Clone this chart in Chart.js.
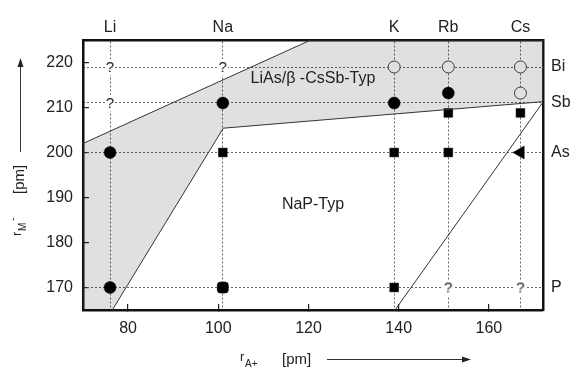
<!DOCTYPE html>
<html>
<head>
<meta charset="utf-8">
<script src="https://cdn.jsdelivr.net/npm/chart.js@4.4.1/dist/chart.umd.min.js"></script>
<style>
  html, body { margin: 0; padding: 0; background: #fff; }
</style>
</head>
<body>
<canvas id="chart" width="573" height="370"></canvas>
<script>
/**
 * Data
 */
const cations = ['Li', 'Na', 'K', 'Rb', 'Cs'];
const cationRadii = [76, 101, 139, 151, 167];
const anions = ['P', 'As', 'Sb', 'Bi'];
const anionRadii = [170, 200, 211, 219];
const xTicks = [80, 100, 120, 140, 160];
const yTicks = [170, 180, 190, 200, 210, 220];

// Beobachtete Strukturen je Verbindung
const filledCircles = [[76, 170], [76, 200], [101, 211], [139, 211], [151, 213.2]];
const openCircles = [[139, 219], [151, 219], [167, 219], [167, 213.2]];
const squares = [[101, 200], [139, 170], [139, 200], [151, 200], [151, 208.8], [167, 208.8]];
const roundSquares = [[101, 170]];
const triangles = [[167, 200]];
const unknown = [[76, 211], [76, 219], [101, 219], [151, 170], [167, 170]];

// Stabilitätsbereiche
const liAsRegion = [[70, 165], [70, 202], [120.5, 225], [172, 225], [172, 211.3], [101.1, 205.4], [76.5, 165]];
const borderLine = [[139.2, 165], [172, 211.2]];

const regionLabels = [
  { text: 'LiAs/β -CsSb-Typ', x: 121, y: 216.5 },
  { text: 'NaP-Typ', x: 121, y: 188.5 }
];

/**
 * Helpers
 */
const toPoints = (list) => list.map(([x, y]) => ({ x, y }));
const FONT = '"Liberation Sans", Arial, sans-serif';

// "?" als Punktstil
const questionMark = (() => {
  const c = document.createElement('canvas');
  c.width = 10; c.height = 16;
  const g = c.getContext('2d');
  g.fillStyle = '#fff';
  g.fillRect(0, 0, 10, 16);
  g.fillStyle = '#222';
  g.font = '15px ' + FONT;
  g.textAlign = 'center';
  g.textBaseline = 'middle';
  g.fillText('?', 5, 9);
  return c;
})();

const fixedTicks = (values) => (scale) => {
  scale.ticks = values.map((v) => ({ value: v }));
};

// Achsentitel mit Indizes und Pfeilen, Beschriftungen der Bereiche
const annotations = {
  id: 'annotations',
  afterDatasetsDraw(chart) {
    const { ctx, scales } = chart;
    ctx.save();
    ctx.fillStyle = '#222';
    ctx.font = '16px ' + FONT;
    ctx.textAlign = 'center';
    ctx.textBaseline = 'middle';
    regionLabels.forEach((l) => {
      ctx.fillText(l.text, scales.x.getPixelForValue(l.x), scales.y.getPixelForValue(l.y));
    });
    ctx.restore();
  },
  afterDraw(chart) {
    const { ctx } = chart;
    ctx.save();
    ctx.fillStyle = '#222';
    ctx.strokeStyle = '#333';
    ctx.lineWidth = 1;
    ctx.textBaseline = 'alphabetic';

    // x-Titel
    ctx.font = '13px ' + FONT;
    ctx.fillText('r', 240, 361);
    ctx.font = '10px ' + FONT;
    ctx.fillText('A+', 245, 367);
    ctx.font = '15px ' + FONT;
    ctx.fillText('[pm]', 282, 364);
    ctx.beginPath();
    ctx.moveTo(327, 359.5);
    ctx.lineTo(466, 359.5);
    ctx.stroke();
    ctx.beginPath();
    ctx.moveTo(471, 359.5);
    ctx.lineTo(462, 356.5);
    ctx.lineTo(462, 362.5);
    ctx.closePath();
    ctx.fill();

    // y-Titel (gedreht)
    ctx.translate(22, 0);
    ctx.rotate(-Math.PI / 2);
    ctx.font = '13px ' + FONT;
    ctx.fillText('r', -236, -1);
    ctx.font = '10px ' + FONT;
    ctx.fillText('M', -231, 4);
    ctx.fillText('-', -221, -6);
    ctx.font = '15px ' + FONT;
    ctx.fillText('[pm]', -194, 2);
    ctx.beginPath();
    ctx.moveTo(-152, -1.5);
    ctx.lineTo(-64, -1.5);
    ctx.stroke();
    ctx.beginPath();
    ctx.moveTo(-58, -1.5);
    ctx.lineTo(-67, -4.5);
    ctx.lineTo(-67, 1.5);
    ctx.closePath();
    ctx.fill();
    ctx.restore();
  }
};

/**
 * Chart
 */
const frame = { width: 2.5, color: '#111' };
const tickFont = { family: FONT, size: 16 };

new Chart(document.getElementById('chart').getContext('2d'), {
  type: 'scatter',
  data: {
    datasets: [
      {
        type: 'line',
        data: toPoints(liAsRegion),
        borderColor: '#333',
        borderWidth: 1,
        backgroundColor: 'rgba(0, 0, 0, 0.12)',
        fill: 'shape',
        pointRadius: 0,
        tension: 0
      },
      {
        type: 'line',
        data: toPoints(borderLine),
        borderColor: '#333',
        borderWidth: 1,
        fill: false,
        pointRadius: 0
      },
      {
        data: toPoints(unknown),
        pointStyle: questionMark
      },
      {
        data: toPoints(filledCircles),
        pointStyle: 'circle',
        pointRadius: 6,
        backgroundColor: '#000',
        borderColor: '#000',
        borderWidth: 0.5
      },
      {
        data: toPoints(openCircles),
        pointStyle: 'circle',
        pointRadius: 6,
        backgroundColor: '#fff',
        borderColor: '#444',
        borderWidth: 1
      },
      {
        data: toPoints(squares),
        pointStyle: 'rect',
        pointRadius: 6.2,
        backgroundColor: '#000',
        borderColor: '#000',
        borderWidth: 0.5
      },
      {
        data: toPoints(roundSquares),
        pointStyle: 'rectRounded',
        pointRadius: 6.5,
        backgroundColor: '#000',
        borderColor: '#000',
        borderWidth: 0.5
      },
      {
        data: toPoints(triangles),
        pointStyle: 'triangle',
        rotation: -90,
        pointRadius: 7.5,
        backgroundColor: '#000',
        borderColor: '#000',
        borderWidth: 0.5
      }
    ]
  },
  options: {
    responsive: false,
    animation: false,
    events: [],
    layout: { padding: 0 },
    plugins: {
      legend: { display: false },
      tooltip: { enabled: false }
    },
    scales: {
      x: {
        type: 'linear',
        position: 'bottom',
        min: 70,
        max: 172,
        afterBuildTicks: fixedTicks(xTicks),
        afterFit: (s) => { s.height = 60; },
        border: frame,
        grid: { drawOnChartArea: false, drawTicks: true, tickLength: -6, color: '#222', lineWidth: 1.2 },
        ticks: { font: tickFont, color: '#222', padding: 15, maxRotation: 0 }
      },
      y: {
        type: 'linear',
        position: 'left',
        min: 165,
        max: 225,
        afterBuildTicks: fixedTicks(yTicks),
        afterFit: (s) => { s.width = 83; },
        border: frame,
        grid: { drawOnChartArea: false, drawTicks: true, tickLength: -6, color: '#222', lineWidth: 1.2 },
        ticks: { font: tickFont, color: '#222', padding: 16 }
      },
      x2: {
        type: 'linear',
        position: 'top',
        min: 70,
        max: 172,
        afterBuildTicks: fixedTicks(cationRadii),
        afterFit: (s) => { s.height = 40; },
        border: { ...frame, dash: [2, 2] },
        grid: { drawOnChartArea: true, drawTicks: false, color: '#666', lineWidth: 1 },
        ticks: {
          font: tickFont,
          color: '#222',
          padding: 3,
          maxRotation: 0,
          callback: (v) => cations[cationRadii.indexOf(v)] ?? ''
        }
      },
      y2: {
        type: 'linear',
        position: 'right',
        min: 165,
        max: 225,
        afterBuildTicks: fixedTicks(anionRadii),
        afterFit: (s) => { s.width = 30; },
        border: { ...frame, dash: [2, 2] },
        grid: { drawOnChartArea: true, drawTicks: false, color: '#666', lineWidth: 1 },
        ticks: {
          font: tickFont,
          color: '#222',
          padding: 8,
          callback: (v) => anions[anionRadii.indexOf(v)] ?? ''
        }
      }
    }
  },
  plugins: [annotations]
});
</script>
</body>
</html>
